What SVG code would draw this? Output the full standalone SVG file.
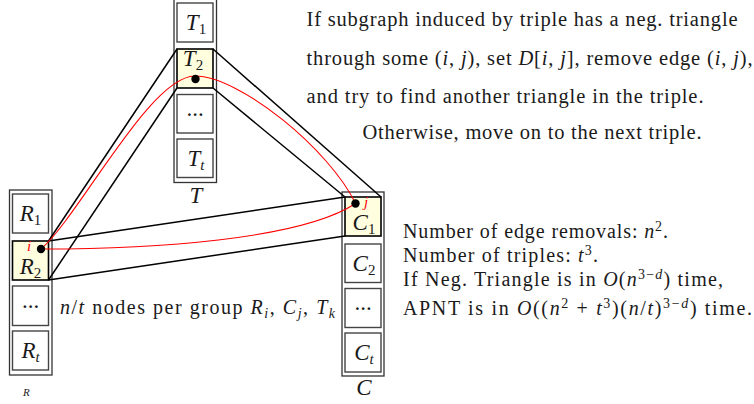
<svg xmlns="http://www.w3.org/2000/svg" width="754" height="404" viewBox="0 0 754 404">
<style>
text{font-family:"Liberation Serif","Times New Roman",serif;fill:#1a1a1a}
.it{font-style:italic}
.lbl{font-size:23px;text-anchor:middle}
.sub{font-size:15px}
.outer{fill:#fff;stroke:#333;stroke-width:1.3}
.box{fill:#fff;stroke:#444;stroke-width:1.4}
.hl{fill:#ffffe0;stroke:#000;stroke-width:1.6}
.edge{fill:none;stroke:#000;stroke-width:1.5}
.red{fill:none;stroke:#f00;stroke-width:1.1}
.rt{fill:#f00;font-style:italic;font-size:15px}
.para{font-size:20.5px}
.para2{font-size:20px}
</style>

<g id="colT">
<rect class="outer" x="174" y="-2" width="42.5" height="184.5"/>
<g id="T1"><rect class="box" x="177" y="3" width="36" height="39"/><text class="lbl" x="196" y="30"><tspan class="it">T</tspan><tspan class="sub" dy="4">1</tspan></text></g>
<g id="T2"><rect class="hl" x="177" y="49" width="36" height="39"/><text class="lbl" x="193" y="66"><tspan class="it">T</tspan><tspan class="sub" dy="4">2</tspan></text></g>
<g id="Tdots"><rect class="box" x="177" y="94.5" width="36" height="38.5"/><text class="lbl" x="195" y="116">...</text></g>
<g id="Tt"><rect class="box" x="177" y="139" width="36" height="38.5"/><text class="lbl" x="196" y="166"><tspan class="it">T</tspan><tspan class="sub it" dy="4">t</tspan></text></g>
<text class="lbl it" x="196" y="203">T</text>
</g>

<g id="colR">
<rect class="outer" x="9.5" y="190" width="42.5" height="185"/>
<g id="R1"><rect class="box" x="12.5" y="194" width="36" height="39"/><text class="lbl" x="30.5" y="221"><tspan class="it">R</tspan><tspan class="sub" dy="4">1</tspan></text></g>
<g id="R2"><rect class="hl" x="12.5" y="241" width="36" height="39"/><text class="lbl" x="30.5" y="274"><tspan class="it">R</tspan><tspan class="sub" dy="3.5">2</tspan></text></g>
<g id="Rdots"><rect class="box" x="12.5" y="286" width="36" height="39.5"/><text class="lbl" x="30.5" y="308">...</text></g>
<g id="Rt"><rect class="box" x="12.5" y="331" width="36" height="39"/><text class="lbl" x="30.5" y="358"><tspan class="it">R</tspan><tspan class="sub it" dy="4">t</tspan></text></g>
<text class="it" x="23" y="396" font-size="11">R</text>
</g>

<g id="colC">
<rect class="outer" x="342" y="192" width="42" height="184"/>
<g id="C1"><rect class="hl" x="345" y="197" width="36" height="39"/><text class="lbl" x="364" y="230"><tspan class="it">C</tspan><tspan class="sub" dy="4">1</tspan></text></g>
<g id="C2"><rect class="box" x="345" y="244" width="36" height="38.5"/><text class="lbl" x="364" y="270.5"><tspan class="it">C</tspan><tspan class="sub" dy="4">2</tspan></text></g>
<g id="Cdots"><rect class="box" x="345" y="288.5" width="36" height="39"/><text class="lbl" x="363" y="310">...</text></g>
<g id="Ct"><rect class="box" x="345" y="333" width="36" height="39"/><text class="lbl" x="364" y="360"><tspan class="it">C</tspan><tspan class="sub it" dy="4">t</tspan></text></g>
<text class="lbl it" x="364" y="395">C</text>
</g>

<g id="connectors">
<line class="edge" x1="48.5" y1="241" x2="177" y2="49"/>
<line class="edge" x1="48.5" y1="280" x2="177" y2="88"/>
<line class="edge" x1="213" y1="49" x2="381" y2="197"/>
<line class="edge" x1="213" y1="88" x2="345" y2="197"/>
<line class="edge" x1="48.5" y1="241" x2="345" y2="197"/>
<line class="edge" x1="48.5" y1="280" x2="345" y2="236"/>
<path class="red" d="M41,249 C80,215 150,76 195,76"/>
<path class="red" d="M195,76 C240,76 330,150 355.5,203.5"/>
<path class="red" d="M41,249 C150,249 300,240 355.5,203.5"/>
<circle cx="41" cy="249" r="4.2" fill="#000"/>
<circle cx="195.5" cy="79" r="4.2" fill="#000"/>
<circle cx="355.5" cy="203.5" r="4.2" fill="#000"/>
<text class="rt" x="27" y="251">i</text>
<text class="rt" x="364" y="207">j</text>
</g>

<g id="notes">
<text class="para" x="306.5" y="26" textLength="431" lengthAdjust="spacing">If subgraph induced by triple has a neg. triangle</text>
<text class="para" x="306.5" y="64.5" textLength="446" lengthAdjust="spacing">through some (<tspan class="it">i</tspan>, <tspan class="it">j</tspan>), set <tspan class="it">D</tspan>[<tspan class="it">i</tspan>, <tspan class="it">j</tspan>], remove edge (<tspan class="it">i</tspan>, <tspan class="it">j</tspan>),</text>
<text class="para" x="306.5" y="103" textLength="397" lengthAdjust="spacing">and try to find another triangle in the triple.</text>
<text class="para" x="362.5" y="139" textLength="339" lengthAdjust="spacing">Otherwise, move on to the next triple.</text>

<text class="para2" x="403" y="238" textLength="265" lengthAdjust="spacing">Number of edge removals: <tspan class="it">n</tspan><tspan font-size="14" dy="-7">2</tspan><tspan dy="7">.</tspan></text>
<text class="para2" x="403" y="262" textLength="195" lengthAdjust="spacing">Number of triples: <tspan class="it">t</tspan><tspan font-size="14" dy="-7">3</tspan><tspan dy="7">.</tspan></text>
<text class="para2" x="403" y="286" textLength="320" lengthAdjust="spacing">If Neg. Triangle is in <tspan class="it">O</tspan>(<tspan class="it">n</tspan><tspan font-size="14" dy="-7">3−<tspan class="it">d</tspan></tspan><tspan dy="7">) time,</tspan></text>
<text class="para2" x="403" y="315" textLength="349" lengthAdjust="spacing">APNT is in <tspan class="it">O</tspan>((<tspan class="it">n</tspan><tspan font-size="14" dy="-7">2</tspan><tspan dy="7"> + </tspan><tspan class="it">t</tspan><tspan font-size="14" dy="-7">3</tspan><tspan dy="7">)(</tspan><tspan class="it">n</tspan>/<tspan class="it">t</tspan>)<tspan font-size="14" dy="-7">3−<tspan class="it">d</tspan></tspan><tspan dy="7">) time.</tspan></text>

<text class="para2" x="60" y="314" textLength="275" lengthAdjust="spacing"><tspan class="it">n</tspan>/<tspan class="it">t</tspan> nodes per group <tspan class="it">R</tspan><tspan class="it" font-size="14" dy="4">i</tspan><tspan dy="-4">, </tspan><tspan class="it">C</tspan><tspan class="it" font-size="14" dy="4">j</tspan><tspan dy="-4">, </tspan><tspan class="it">T</tspan><tspan class="it" font-size="14" dy="4">k</tspan></text>
</g>
</svg>
